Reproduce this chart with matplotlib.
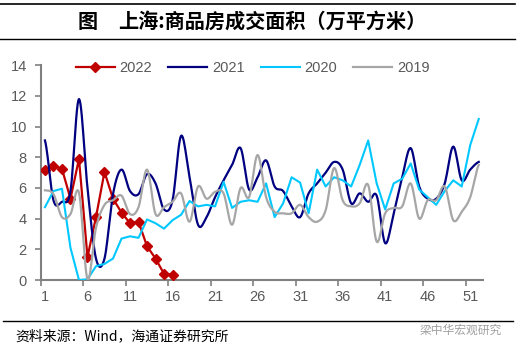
import numpy as np
import matplotlib
matplotlib.use("Agg")
import matplotlib.pyplot as plt
from matplotlib.lines import Line2D

plt.rcParams['font.family'] = ['Liberation Sans', 'Noto Sans CJK SC', 'DejaVu Sans']

weeks = list(range(1, 53))
x_labels = [str(w) for w in range(1, 53, 5)]

y2022 = [7.2, 7.45, 7.25, 5.3, 7.9, 1.5, 4.1, 7.05, 5.3, 4.4, 3.7, 3.8, 2.2, 1.4, 0.4, 0.35]
y2021 = [9.1, 5.2, 5.1, 5.8, 11.8, 6.0, 1.4, 1.4, 5.6, 7.2, 5.8, 5.6, 6.9, 6.3, 4.6, 5.2,
         9.4, 6.7, 3.6, 4.1, 5.4, 6.5, 7.5, 8.6, 5.9, 6.7, 7.8, 6.1, 5.8, 4.8, 4.1, 5.65,
         6.3, 7.0, 7.7, 7.2, 5.0, 5.65, 5.1, 5.5, 2.4, 4.35, 6.7, 8.6, 6.1, 5.3, 5.3, 6.3,
         8.7, 6.5, 7.2, 7.7]
y2020 = [4.75, 5.8, 5.95, 2.1, 0.0, 0.05, 0.9, 1.05, 1.4, 2.7, 2.85, 2.75, 3.95, 3.7, 3.35, 3.9,
         4.25, 5.15, 4.8, 4.9, 4.8, 6.4, 4.7, 5.1, 5.2, 5.1, 6.3, 4.1, 5.0, 6.7, 6.35, 4.35,
         7.2, 6.1, 6.7, 6.5, 6.1, 7.5, 9.1, 6.3, 4.6, 6.3, 6.6, 7.6, 5.9, 5.4, 4.9, 5.8,
         6.5, 6.1, 8.8, 10.5]
y2019 = [5.85, 5.6, 4.1, 4.3, 5.7, 0.05, 3.4, 4.9, 5.2, 5.5, 4.3, 4.75, 7.2, 4.3, 4.75, 5.1,
         5.65, 3.8, 6.1, 5.3, 5.75, 5.65, 3.6, 6.0, 5.4, 8.15, 5.4, 4.45, 4.35, 4.35, 4.9, 4.1,
         3.8, 4.55, 7.3, 5.2, 4.8, 5.0, 6.2, 2.5, 4.35, 4.7, 4.8, 6.3, 4.0, 5.2, 5.2, 6.1,
         3.9, 4.45, 5.4, 7.5]

def smooth(xs, ys, n=12):
    # Catmull-Rom curve through the data points (Excel "smoothed line" look)
    xs = np.asarray(xs, float); ys = np.asarray(ys, float)
    px = np.concatenate([[2 * xs[0] - xs[1]], xs, [2 * xs[-1] - xs[-2]]])
    py = np.concatenate([[ys[0]], ys, [ys[-1]]])
    ox, oy = [], []
    t = np.linspace(0, 1, n, endpoint=False)
    for i in range(1, len(px) - 2):
        for arr, out in ((px, ox), (py, oy)):
            p0, p1, p2, p3 = arr[i - 1], arr[i], arr[i + 1], arr[i + 2]
            out.extend(0.5 * ((2 * p1) + (-p0 + p2) * t + (2 * p0 - 5 * p1 + 4 * p2 - p3) * t ** 2
                              + (-p0 + 3 * p1 - 3 * p2 + p3) * t ** 3))
    ox.append(xs[-1]); oy.append(ys[-1])
    return np.array(ox), np.array(oy)

c22, c21, c20, c19 = '#C00000', '#000080', '#00C8FF', '#A6A6A6'

fig = plt.figure(figsize=(5.19, 3.51), dpi=100)
ax = fig.add_axes([40.7 / 519, 1 - 280 / 351, (483 - 40.7) / 519, (280 - 65.3) / 351])

ax.plot(weeks[:len(y2022)], y2022, color=c22, lw=1.6, marker='D', ms=5.5, zorder=3)
sx, sy = smooth(weeks, y2021)
ax.plot(sx, sy, color=c21, lw=1.6, zorder=4)
ax.plot(weeks, y2020, color=c20, lw=1.5, zorder=5)
sx, sy = smooth(weeks, y2019)
ax.plot(sx, sy, color=c19, lw=1.6, zorder=6)

ax.set_xlim(0.5, 52.5)
ax.set_ylim(0, 14)
ax.set_yticks(range(0, 15, 2))
ax.set_xticks([w - 0.5 for w in range(1, 53, 5)])
ax.set_xticklabels([])
ax.set_xticks(list(range(1, 53, 5)), minor=True)
ax.set_xticklabels(x_labels, minor=True)
ax.tick_params(axis='x', which='minor', length=0, pad=7, labelsize=10.5, labelcolor='#595959')
ax.tick_params(axis='x', which='major', length=4, width=1.2, color='#808080')
ax.tick_params(axis='y', length=4, width=1.2, color='#808080', pad=6, labelsize=10.5,
               labelcolor='#595959')
for s in ('top', 'right'):
    ax.spines[s].set_visible(False)
for s in ('left', 'bottom'):
    ax.spines[s].set_color('#808080')
    ax.spines[s].set_linewidth(1.5)

handles = [Line2D([], [], color=c22, lw=1.6, marker='D', ms=5.5),
           Line2D([], [], color=c21, lw=1.6),
           Line2D([], [], color=c20, lw=1.5),
           Line2D([], [], color=c19, lw=1.6)]
leg = ax.legend(handles, ['2022', '2021', '2020', '2019'], ncol=4, loc='center',
                bbox_to_anchor=(0.479, 1 - 3 / 215), frameon=False, fontsize=10.5,
                handlelength=2.7, columnspacing=1.1, handletextpad=0.3, borderpad=0)
for t in leg.get_texts():
    t.set_color('#595959')

# header / footer rules
fig.add_artist(Line2D([0, 515 / 519], [1 - 3.5 / 351] * 2, color='black', lw=1.2))
fig.add_artist(Line2D([0, 515 / 519], [1 - 39 / 351] * 2, color='black', lw=1.0))
fig.add_artist(Line2D([3 / 519, 513 / 519], [1 - 321 / 351] * 2, color='black', lw=1.0))

fig.text(78 / 519, 1 - 21 / 351, '图', fontsize=14.5, fontweight='bold',
         family=['Noto Sans CJK SC'], va='center', ha='left')
fig.text(118 / 519, 1 - 21 / 351, '上海:商品房成交面积（万平方米）', fontsize=14.5,
         fontweight='bold', family=['Noto Sans CJK SC'], va='center', ha='left')
fig.text(15 / 519, 1 - 336 / 351, '资料来源：Wind，海通证券研究所', fontsize=10,
         family=['Noto Sans CJK SC', 'Liberation Sans'], va='center', ha='left')
fig.text(502 / 519, 1 - 330 / 351, '梁中华宏观研究', fontsize=8.5, color='#A0A0A0',
         family=['Noto Sans CJK SC'], va='center', ha='right')

fig.savefig('out.png', dpi=100)
